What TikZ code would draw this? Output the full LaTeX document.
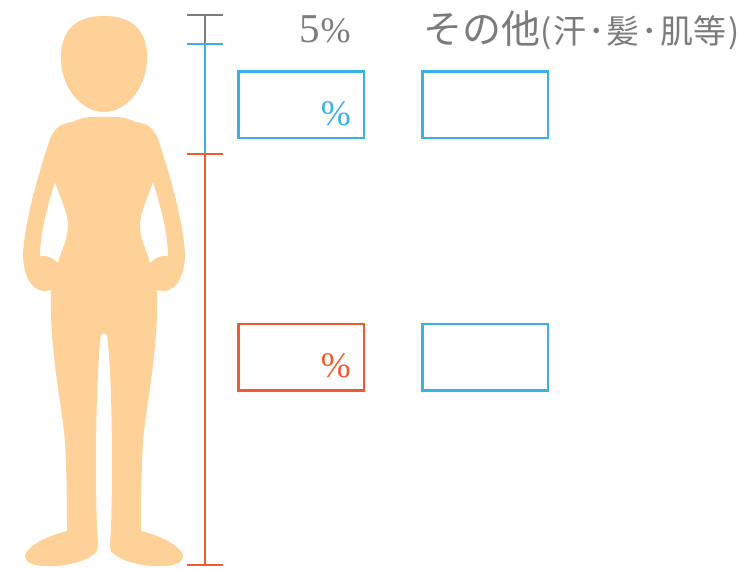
\documentclass[tikz,border=0pt]{standalone}
\usepackage{fontspec}
\setmainfont{Liberation Serif}
\newfontfamily\jpfont{Noto Sans CJK JP}
\usepackage{xcolor}
\usepackage{tikz}
\usetikzlibrary{positioning}

\definecolor{skin}{HTML}{FDD198}
\definecolor{skyblue}{HTML}{39B1E6}
\definecolor{vermil}{HTML}{F25A2E}
\definecolor{midgray}{HTML}{7B7B7B}

\newcommand{\jdot}{\kern2pt･\kern2pt}

\begin{document}
\begin{tikzpicture}[x=1pt, y=-1pt,
  ratebox/.style={draw, line width=2.5pt, minimum width=125.5pt, minimum height=66.5pt, inner sep=0pt},
  bluebox/.style={ratebox, skyblue},
  redbox/.style={ratebox, vermil},
  pct/.style={inner sep=0pt, anchor=base east, font=\fontsize{36}{36}\selectfont},
  hdr/.style={inner sep=0pt, anchor=base west, text=midgray},
  rule/.style={line width=2.5pt}
]
\useasboundingbox (0,0) rectangle (753,569);

% figure
\fill[skin] (104,16) .. controls (135,16) and (148,33) .. (147,60)
  .. controls (146,89) and (126,112) .. (104,112)
  .. controls (82,112) and (62,89) .. (61,60)
  .. controls (60,33) and (73,16) .. (104,16) -- cycle;
\fill[skin, even odd rule] (104,117)
  .. controls (88,116) and (80,118) .. (73,122)
  .. controls (60,123) and (54,129) .. (50,139)
  .. controls (40,169) and (25,218) .. (23,254)
  .. controls (23,273) and (30,291) .. (45,291)
  .. controls (48,291) and (50,290) .. (51,290)
  .. controls (49,349) and (62,404) .. (65,442)
  .. controls (67,480) and (67,513) .. (67,531)
  .. controls (42,537) and (25,549) .. (25,556)
  .. controls (25,565) and (40,567) .. (55,566)
  .. controls (75,565) and (92,558) .. (97,551)
  .. controls (99,545) and (97,535) .. (97,529)
  .. controls (95,469) and (96,371) .. (101,335)
  .. controls (102,333) and (106,333) .. (107,335)
  .. controls (112,371) and (113,469) .. (111,529)
  .. controls (111,535) and (109,545) .. (111,551)
  .. controls (116,558) and (133,565) .. (153,566)
  .. controls (168,567) and (183,565) .. (183,556)
  .. controls (183,549) and (166,537) .. (141,531)
  .. controls (141,513) and (141,480) .. (143,442)
  .. controls (146,404) and (159,349) .. (157,290)
  .. controls (158,290) and (160,291) .. (163,291)
  .. controls (178,291) and (185,273) .. (185,254)
  .. controls (183,218) and (168,169) .. (158,139)
  .. controls (154,129) and (148,123) .. (135,122)
  .. controls (128,118) and (120,116) .. (104,117) -- cycle
  (55,182) .. controls (62,202) and (68,213) .. (68,226)
  .. controls (68,240) and (60,253) .. (58,263)
  .. controls (54,259) and (48,255) .. (40,256)
  .. controls (40,235) and (47,207) .. (55,182) -- cycle
  (153,182) .. controls (146,202) and (140,213) .. (140,226)
  .. controls (140,240) and (148,253) .. (150,263)
  .. controls (154,259) and (160,255) .. (168,256)
  .. controls (168,235) and (161,207) .. (153,182) -- cycle;

% scale bar
\coordinate (top) at (205,15);
\coordinate (mid1) at (205,44);
\coordinate (mid2) at (205,154);
\coordinate (bot) at (205,565);
\draw[rule, midgray] (top) -- (mid1);
\draw[rule, skyblue] (mid1) -- (mid2);
\draw[rule, vermil] (mid2) -- (bot);
\draw[rule, midgray] ([xshift=-18pt]top) -- ([xshift=18pt]top);
\draw[rule, skyblue] ([xshift=-18pt]mid1) -- ([xshift=18pt]mid1);
\draw[rule, vermil] ([xshift=-18pt]mid2) -- ([xshift=18pt]mid2);
\draw[rule, vermil] ([xshift=-18pt]bot) -- ([xshift=18pt]bot);

% headings
\node[hdr] (five) at (299,43) {\fontsize{41}{41}\selectfont 5\kern1pt\fontsize{36}{36}\selectfont\%};
\node[hdr] (other) at (423,44) {\jpfont\fontsize{39}{39}\selectfont その他\fontsize{33}{33}\selectfont(\kern2pt 汗\jdot 髪\jdot 肌等\kern2pt)};

% boxes
\node[bluebox] (b1) at (301,105) {};
\node[bluebox] (b2) at (485,105) {};
\node[redbox] (r1) at (301,357.5) {};
\node[bluebox] (b3) at (485,357.5) {};
\node[pct, text=skyblue] (p1) at (351,126) {\%};
\node[pct, text=vermil] (p2) at (351,378) {\%};
\end{tikzpicture}
\end{document}
